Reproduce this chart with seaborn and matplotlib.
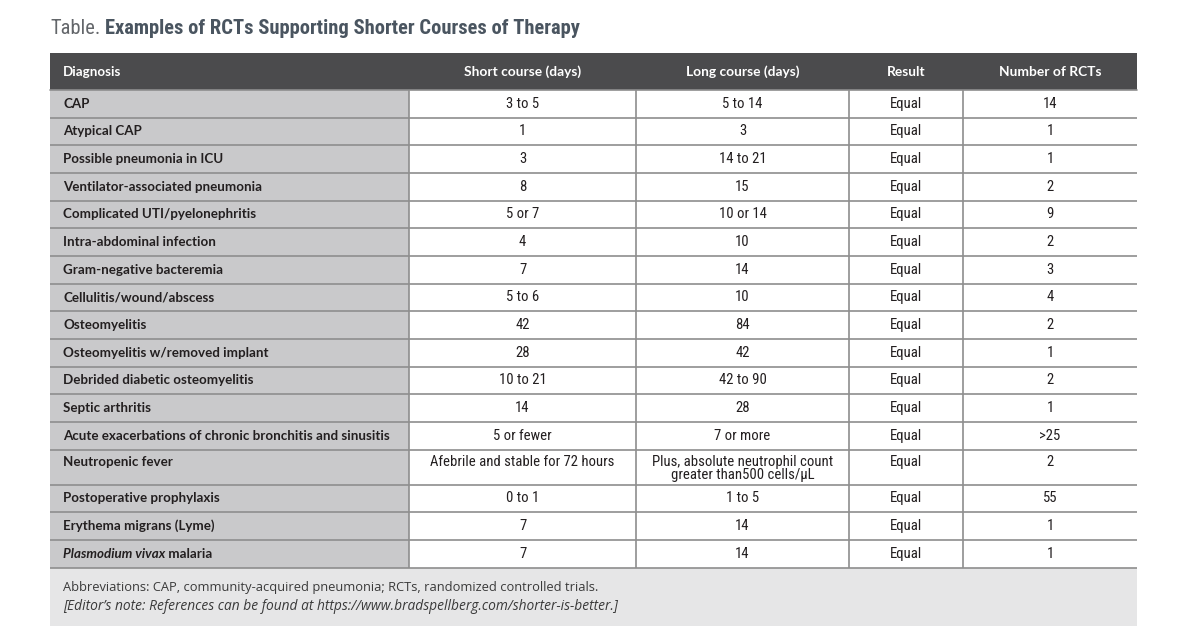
import matplotlib
matplotlib.use("Agg")
import matplotlib.pyplot as plt
from matplotlib import font_manager
from matplotlib.patches import Rectangle
import seaborn as sns

# ---------------- data ----------------
title_prefix = "Table."
title_main = "Examples of RCTs Supporting Shorter Courses of Therapy"
headers = ["Diagnosis", "Short course (days)", "Long course (days)", "Result", "Number of RCTs"]
diagnoses = [
    "CAP", "Atypical CAP", "Possible pneumonia in ICU", "Ventilator-associated pneumonia",
    "Complicated UTI/pyelonephritis", "Intra-abdominal infection", "Gram-negative bacteremia",
    "Cellulitis/wound/abscess", "Osteomyelitis", "Osteomyelitis w/removed implant",
    "Debrided diabetic osteomyelitis", "Septic arthritis",
    "Acute exacerbations of chronic bronchitis and sinusitis", "Neutropenic fever",
    "Postoperative prophylaxis", "Erythema migrans (Lyme)", "Plasmodium vivax malaria",
]
short_course = ["3 to 5", "1", "3", "8", "5 or 7", "4", "7", "5 to 6", "42", "28", "10 to 21",
                "14", "5 or fewer", "Afebrile and stable for 72 hours", "0 to 1", "7", "7"]
long_course = ["5 to 14", "3", "14 to 21", "15", "10 or 14", "10", "14", "10", "84", "42",
               "42 to 90", "28", "7 or more",
               "Plus, absolute neutrophil count\ngreater than500 cells/\u00b5L", "1 to 5", "14", "14"]
result = ["Equal"] * 17
n_rcts = ["14", "1", "1", "2", "9", "2", "3", "4", "2", "1", "2", "1", ">25", "2", "55", "1", "1"]
italic_prefix = {16: "Plasmodium vivax"}
footnotes = [
    "Abbreviations: CAP, community-acquired pneumonia; RCTs, randomized controlled trials.",
    "[Editor\u2019s note: References can be found at https://www.bradspellberg.com/shorter-is-better.]",
]

# ---------------- style ----------------
sns.set_theme(style="white")
available = {f.name for f in font_manager.fontManager.ttflist}
def pick(*names):
    for n in names:
        if n in available:
            return n
    return "DejaVu Sans"
COND = pick("Liberation Sans Narrow", "Roboto Condensed", "Open Sans Condensed", "Roboto")
BODY = pick("Lato", "Open Sans", "Roboto")
plt.rcParams["font.family"] = [BODY, "DejaVu Sans"]

W, H = 1200, 630
fig = plt.figure(figsize=(12, 6.3), dpi=100)
ax = fig.add_axes([0, 0, 1, 1])
ax.set_xlim(0, W)
ax.set_ylim(H, 0)
ax.axis("off")
fig.patch.set_facecolor("white")
renderer = fig.canvas.get_renderer()

col_edges = [50, 409, 636, 849, 963, 1137]
header_top, header_bot = 53, 90
row_h1, extra_line = 27.66, 7.4
line_h = 13.2

HEADER_BG = "#4b4b4d"
DIAG_BG = "#c9c9cb"
GRID = "#8e8e8e"
TXT = "#231f20"
FS_DIAG = 9.6
FS_CELL = 10.6
FS_HEAD = 9.9

# header
ax.add_patch(Rectangle((col_edges[0], header_top), col_edges[-1] - col_edges[0],
                       header_bot - header_top, facecolor=HEADER_BG, edgecolor="none"))
hy = (header_top + header_bot) / 2
for i, h in enumerate(headers):
    if i == 0:
        ax.text(col_edges[0] + 13, hy, h, color="white", fontsize=FS_HEAD - 0.3, fontweight="bold",
                ha="left", va="center")
    else:
        ax.text((col_edges[i] + col_edges[i + 1]) / 2, hy, h, color="white", fontsize=FS_HEAD,
                fontweight="bold", ha="center", va="center")

# rows
columns = [diagnoses, short_course, long_course, result, n_rcts]
y = header_bot
row_bounds = []
for r in range(len(diagnoses)):
    nl = max(col[r].count("\n") + 1 for col in columns)
    rh = row_h1 + (nl - 1) * extra_line
    row_bounds.append((y, y + rh, nl))
    ax.add_patch(Rectangle((col_edges[0], y), col_edges[1] - col_edges[0], rh,
                           facecolor=DIAG_BG, edgecolor="none"))
    ax.add_patch(Rectangle((col_edges[1], y), col_edges[-1] - col_edges[1], rh,
                           facecolor="white", edgecolor="none"))
    y += rh
table_bot = y

for r, (top, bot, nl) in enumerate(row_bounds):
    block_top = (top + bot) / 2 - nl * line_h / 2 + (1.5 if nl > 1 else 0)
    for c, col in enumerate(columns):
        lines = col[r].split("\n")
        for li, txt in enumerate(lines):
            ty = block_top + (li + 0.5) * line_h
            if c == 0:
                x0 = col_edges[0] + 13
                if r in italic_prefix:
                    t1 = ax.text(x0, ty, italic_prefix[r], color=TXT, fontsize=FS_DIAG,
                                 fontweight="bold", fontstyle="italic", ha="left", va="center")
                    bb = t1.get_window_extent(renderer=renderer)
                    rest = txt[len(italic_prefix[r]):]
                    ax.text(bb.x1, ty, rest, color=TXT, fontsize=FS_DIAG, fontweight="bold",
                            ha="left", va="center")
                else:
                    ax.text(x0, ty, txt, color=TXT, fontsize=FS_DIAG, fontweight="bold",
                            ha="left", va="center")
            else:
                ax.text((col_edges[c] + col_edges[c + 1]) / 2, ty, txt, color=TXT,
                        fontsize=FS_CELL, ha="center", va="center",
                        family=[COND, "DejaVu Sans"])

# grid lines
for (top, bot, nl) in row_bounds:
    ax.plot([col_edges[0], col_edges[-1]], [bot, bot], color=GRID, lw=1.2,
            solid_capstyle="butt")
ax.plot([col_edges[0], col_edges[-1]], [header_bot, header_bot], color=GRID, lw=1.2)
for xe in col_edges[1:-1]:
    ax.plot([xe, xe], [header_bot, table_bot], color=GRID, lw=1.2, solid_capstyle="butt")

# footer
ax.add_patch(Rectangle((col_edges[0], table_bot + 0.6), col_edges[-1] - col_edges[0],
                       625 - table_bot, facecolor="#e6e6e7", edgecolor="none"))
ax.text(col_edges[0] + 13, 587, footnotes[0], color="#3a3a3a", fontsize=9.3,
        ha="left", va="center", family=["Open Sans", "DejaVu Sans"])
ax.text(col_edges[0] + 13, 606, footnotes[1], color="#3a3a3a", fontsize=9.9,
        fontstyle="italic", ha="left", va="center", family=["Open Sans", "DejaVu Sans"])

# title
t1 = ax.text(50, 28, title_prefix, color="#63666a", fontsize=14.8, ha="left", va="center",
             family=[COND, "DejaVu Sans"])
bb = t1.get_window_extent(renderer=renderer)
ax.text(bb.x1 + 5, 28, title_main, color="#4a5560", fontsize=14.8, fontweight="bold",
        ha="left", va="center", family=[COND, "DejaVu Sans"])

fig.savefig("out.png", dpi=100, facecolor="white")
